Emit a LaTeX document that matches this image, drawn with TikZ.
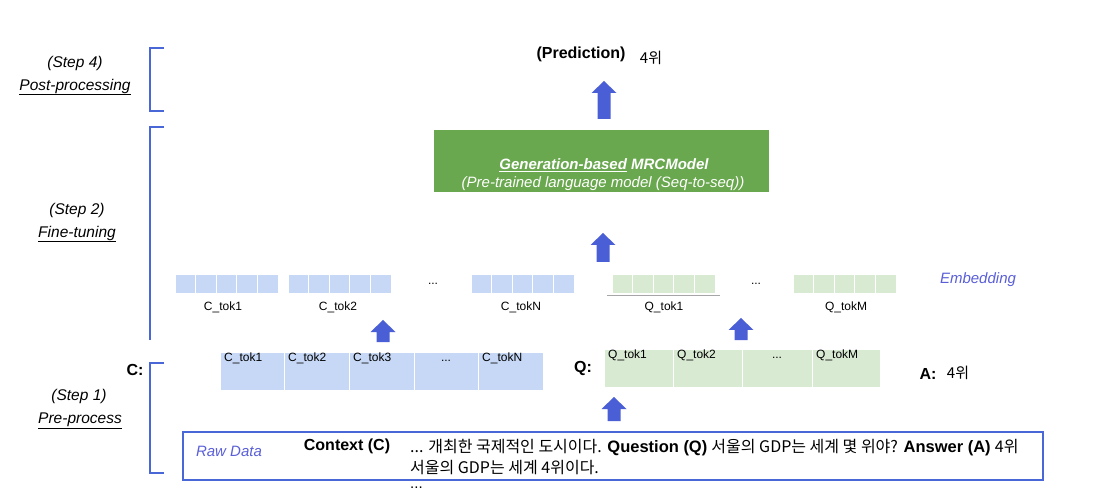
\documentclass[tikz,border=0pt]{standalone}
\usepackage{fontspec}
\setmainfont{Liberation Sans}
\newfontfamily\kr{Noto Sans CJK KR}
\definecolor{brkblue}{HTML}{4A67D8}
\definecolor{arrblue}{HTML}{4A5FD6}
\definecolor{cellblue}{HTML}{C6D8F5}
\definecolor{cellgreen}{HTML}{D9EAD3}
\definecolor{mrcgreen}{HTML}{6AA84F}
\definecolor{embtext}{HTML}{5A5FD8}
\newcommand\fs[1]{\fontsize{#1}{#1}\selectfont}
\newcommand\blkarrow[3]{%
  \fill[arrblue] (#1-6.5,#2) -- (#1-6.5,#3+12) -- (#1-12.5,#3+12) -- (#1,#3)
    -- (#1+12.5,#3+12) -- (#1+6.5,#3+12) -- (#1+6.5,#2) -- cycle;}
\newcommand\embblock[2]{%
  \foreach \i in {0,...,4} \draw[#2] ({#1+\i*20.6},275) rectangle ++(20.6,19);}
\begin{document}
\begin{tikzpicture}[x=1pt,y=-1pt,
  bracketline/.style={draw=brkblue,line width=1.2pt},
  cellC/.style={fill=cellblue,draw=white,line width=1pt},
  cellQ/.style={fill=cellgreen,draw=white,line width=1pt},
  lbl/.style={inner sep=0pt,font=\fs{12}},
  steplbl/.style={inner sep=0pt,font=\fs{15.5}\itshape,align=center},
  boldlbl/.style={inner sep=0pt,font=\fs{16}\bfseries}]
\useasboundingbox (0,0) rectangle (1103,494);
\fill[white] (0,0) rectangle (1103,494);
% brackets
\draw[bracketline] (164,48) -- (150,48) -- (150,111) -- (164,111);
\draw[bracketline] (164,127) -- (150,127) -- (150,340);
\draw[bracketline] (164,363) -- (150,363) -- (150,473) -- (164,473);
% step labels
\node[steplbl] (s4a) at (75,63) {(Step 4)};
\node[steplbl] (s4b) at (75,87) {\underline{Post-processing}};
\node[steplbl] (s2a) at (77,210) {(Step 2)};
\node[steplbl] (s2b) at (77,234) {\underline{Fine-tuning}};
\node[steplbl] (s1a) at (79,396) {(Step 1)};
\node[steplbl] (s1b) at (80,421) {\underline{Pre-process}};
% prediction
\node[boldlbl] (pred) at (581,54) {(Prediction)};
\node[inner sep=0pt,font=\fs{15}\kr] (predv) at (651,58) {4위};
\blkarrow{604}{119}{81}
% model
\node[fill=mrcgreen,minimum width=335pt,minimum height=62pt,inner sep=0pt] (mrc) at (601.5,161) {};
\node[inner sep=0pt,text=white,font=\fs{15}\bfseries\itshape] (mrc1) at (604,165) {\underline{Generation-based} MRCModel};
\node[inner sep=0pt,text=white,font=\fs{15}\itshape] (mrc2) at (603,184) {(Pre-trained language model (Seq-to-seq))};
\blkarrow{603}{262}{233}
% embeddings
\embblock{175}{cellC}
\embblock{288}{cellC}
\embblock{471}{cellC}
\embblock{612}{cellQ}
\embblock{793}{cellQ}
\draw[gray!70,line width=1.5pt] (607,295.5) -- (720,295.5);
\node[lbl] (dots1) at (433,284) {...};
\node[lbl] (dots2) at (756,284) {...};
\node[inner sep=0pt,text=embtext,font=\fs{15}\itshape] (emb) at (978,280) {Embedding};
\node[lbl] (e1) at (223,307) {C\_tok1};
\node[lbl] (e2) at (338,307) {C\_tok2};
\node[lbl] (e3) at (521,307) {C\_tokN};
\node[lbl] (e4) at (664,307) {Q\_tok1};
\node[lbl] (e5) at (846,307) {Q\_tokM};
\blkarrow{383}{342}{320}
\blkarrow{741}{340}{318}
% C row
\foreach \a/\b/\t in {220/284/C\_tok1,284/349/C\_tok2,349/414/C\_tok3,478/543/C\_tokN}
  {\draw[cellC] (\a,352) rectangle (\b,390);
   \node[lbl,anchor=north west] at (\a+4,352.5) {\t};}
\draw[cellC] (414,352) rectangle (478,390);
\node[lbl,anchor=base] (cdots) at (446,361.5) {...};
\node[boldlbl] (clab) at (135,370) {C:};
% Q row
\foreach \a/\b/\t in {604/673/Q\_tok1,673/742/Q\_tok2,812/880/Q\_tokM}
  {\draw[cellQ] (\a,349) rectangle (\b,387);
   \node[lbl,anchor=north west] at (\a+4,349.5) {\t};}
\draw[cellQ] (742,349) rectangle (812,387);
\node[lbl,anchor=base] (qdots) at (777,358.5) {...};
\node[boldlbl] (qlab) at (583,368) {Q:};
\node[boldlbl] (alab) at (928,374) {A:};
\node[inner sep=0pt,font=\fs{15}\kr] (aval) at (958,373) {4위};
\blkarrow{614}{421}{397}
% raw data
\draw[brkblue,line width=1.2pt] (183,432) rectangle (1043,480);
\node[inner sep=0pt,text=embtext,font=\fs{15}\itshape] (raw) at (229,451) {Raw Data};
\node[boldlbl] (ctx) at (347,446) {Context (C)};
\node[inner sep=0pt,anchor=base west,font=\fs{15}] (l1) at (410,452)
  {{\kr\fs{16}... 개최한 국제적인 도시이다.} \textbf{\fs{16.5}Question (Q)} {\kr\fs{16}서울의 GDP는 세계 몇 위야?} \textbf{\fs{16.5}Answer (A)} {\kr\fs{16}4위}};
\node[inner sep=0pt,anchor=base west,font=\fs{16}\kr] (l2) at (410,473) {서울의 GDP는 세계 4위이다.};
\node[inner sep=0pt,anchor=base west,font=\fs{15}] (l3) at (410,488) {...};
\end{tikzpicture}
\end{document}
